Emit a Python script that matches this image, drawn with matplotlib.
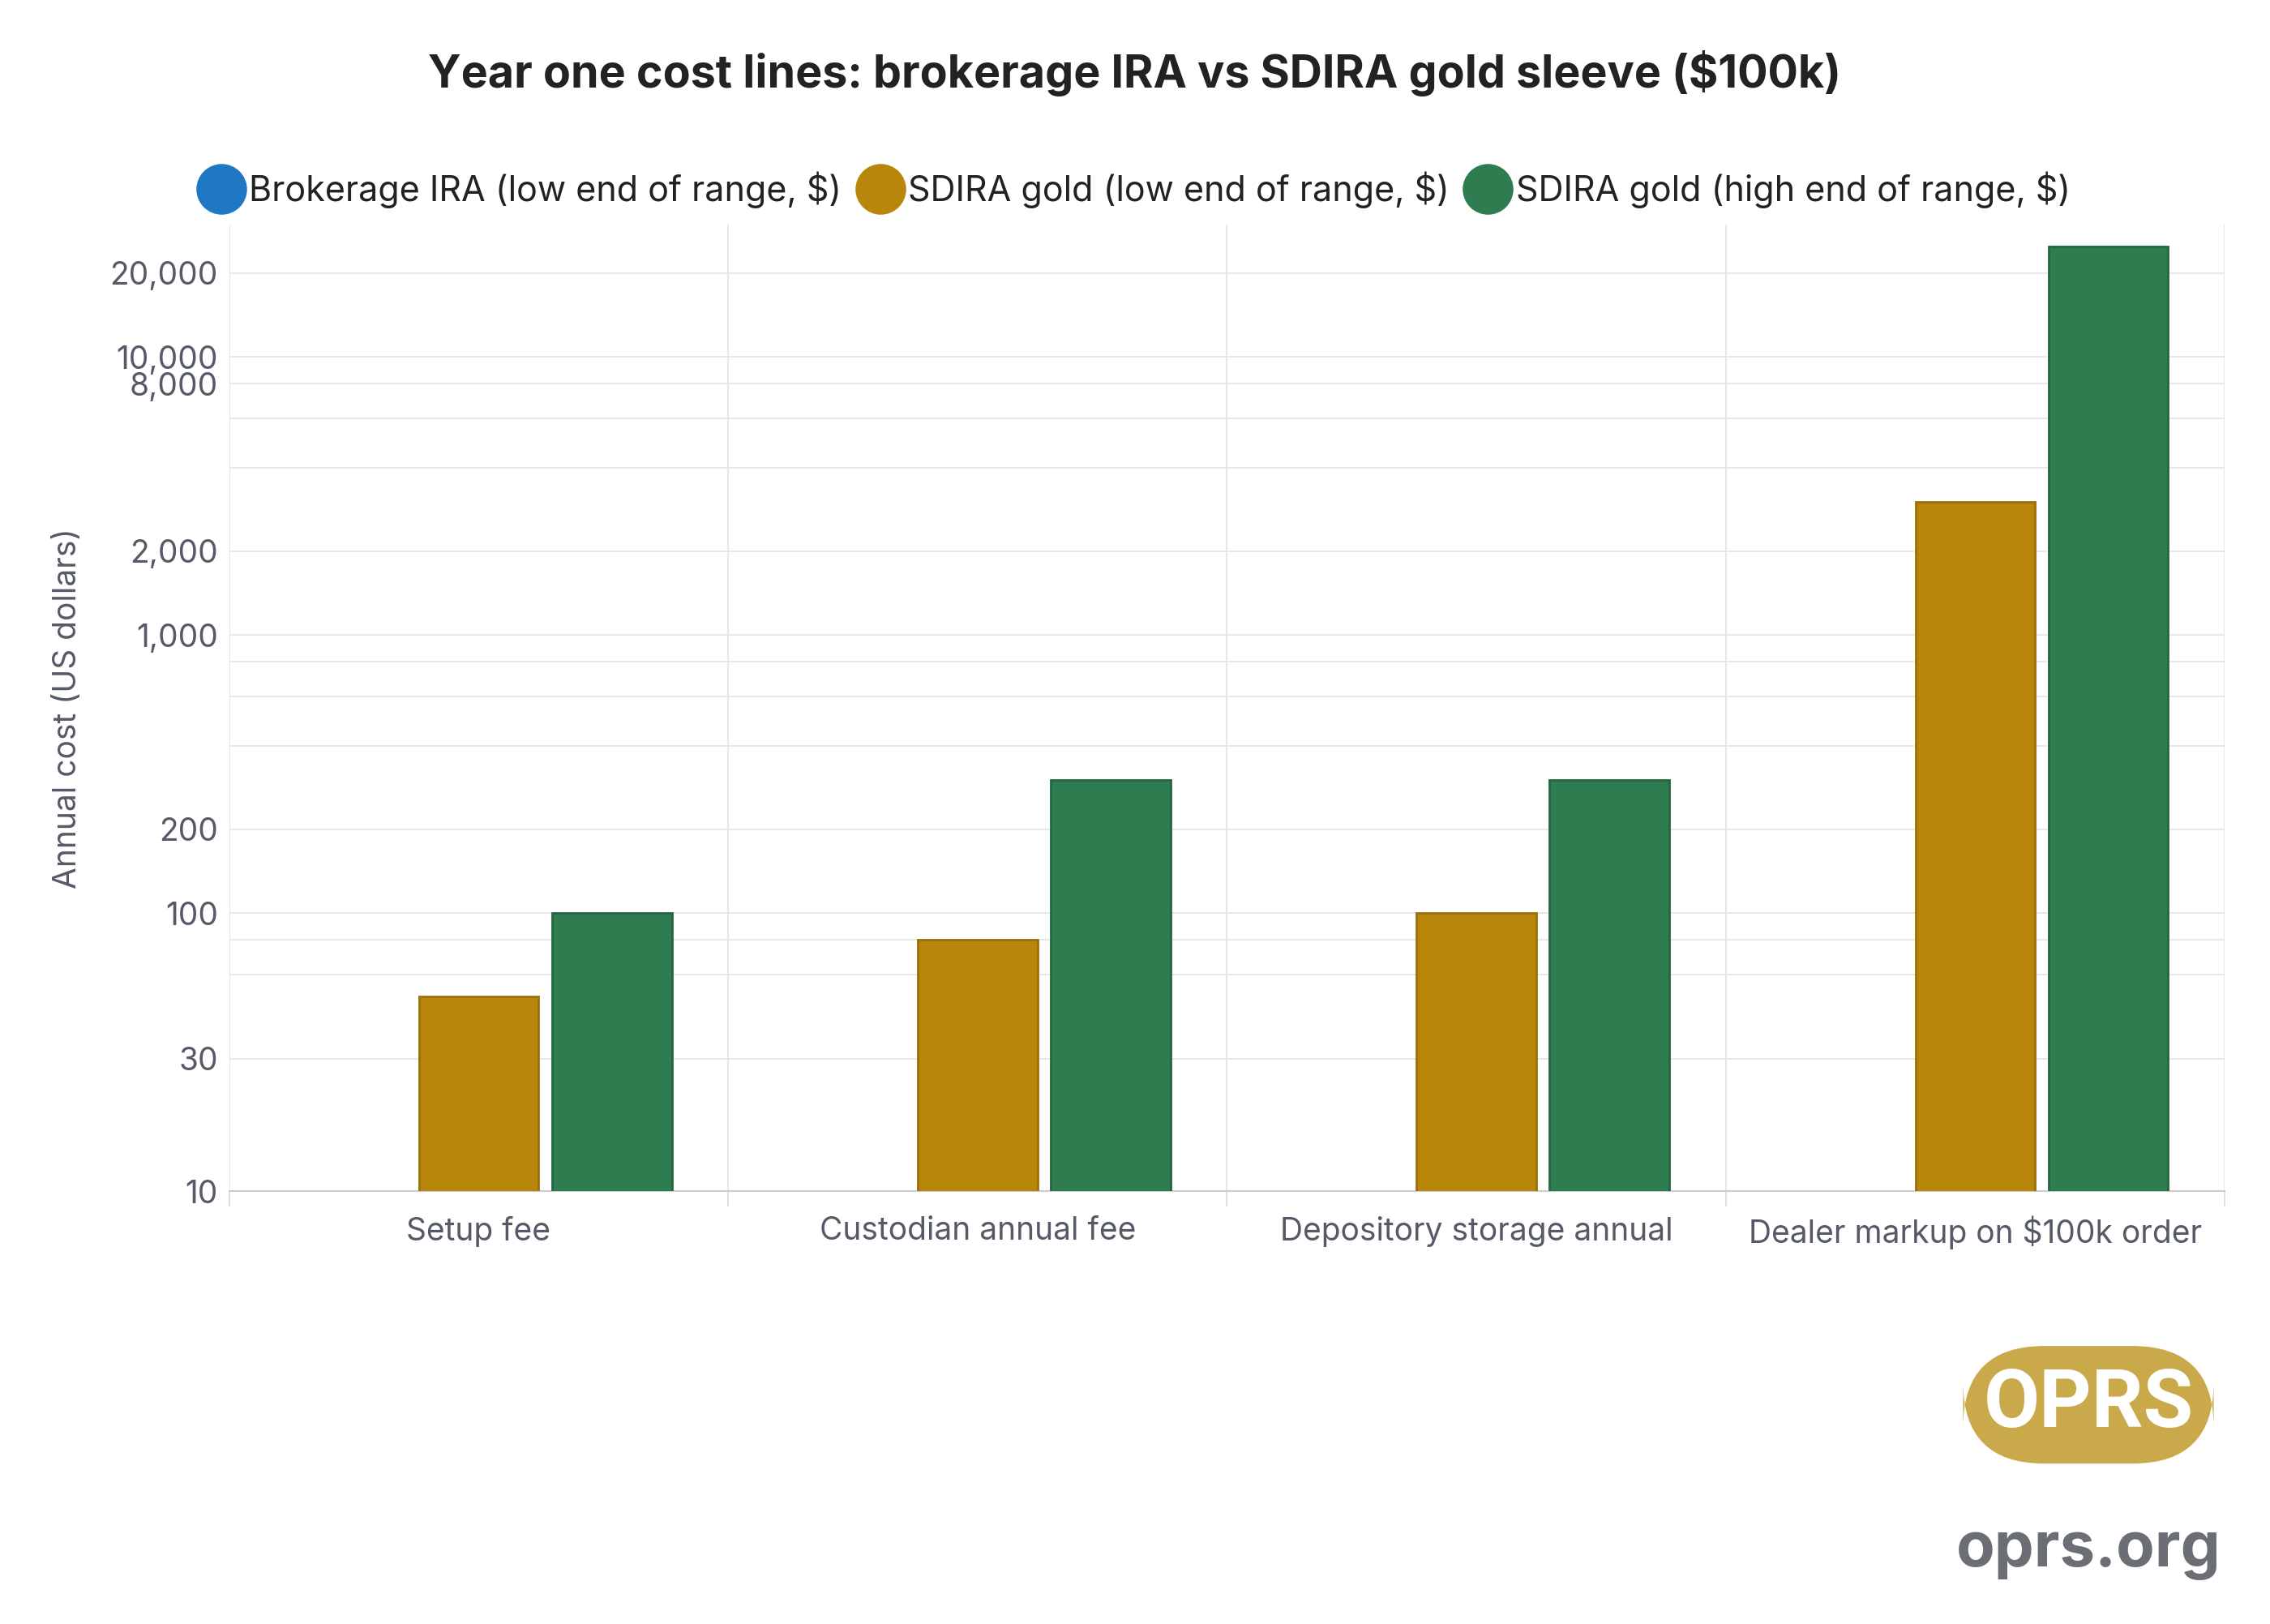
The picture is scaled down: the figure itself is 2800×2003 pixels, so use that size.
import numpy as np
import matplotlib
matplotlib.use("Agg")
import matplotlib.pyplot as plt
from matplotlib.lines import Line2D
from matplotlib.ticker import FixedLocator, NullFormatter

plt.rcParams['font.family'] = ['Inter', 'DejaVu Sans']

categories = ["Setup fee", "Custodian annual fee", "Depository storage annual", "Dealer markup on $100k order"]
brokerage_low = [np.nan, np.nan, np.nan, np.nan]
sdira_low = [50, 80, 100, 3000]
sdira_high = [100, 300, 300, 25000]
series_names = ["Brokerage IRA (low end of range, $)", "SDIRA gold (low end of range, $)", "SDIRA gold (high end of range, $)"]
colors = ["#1f77c4", "#b8860b", "#2e7d50"]
edge_colors = ["#1a5f9c", "#9a700a", "#25663f"]
major_ticks = [10, 30, 100, 200, 1000, 2000, 8000, 10000, 20000]
grid_vals = [10, 30, 60, 80, 100, 200, 400, 600, 800, 1000, 2000, 4000, 6000, 8000, 10000, 20000]

fig = plt.figure(figsize=(28, 20.03), dpi=100)
ax = fig.add_axes([0.101, 0.2665, 0.879, 0.595])
x = np.arange(len(categories))
w = 0.24
step = 0.267
for i, vals in enumerate([brokerage_low, sdira_low, sdira_high]):
    ax.bar(x + (i - 1) * step, vals, width=w, bottom=0, color=colors[i],
           edgecolor=edge_colors[i], linewidth=2, zorder=3)
ax.set_yscale('log')
ax.set_ylim(10, 29800)
ax.set_xlim(-0.5, 3.5)
ax.yaxis.set_major_locator(FixedLocator(major_ticks))
ax.yaxis.set_minor_locator(FixedLocator(grid_vals))
ax.yaxis.set_minor_formatter(NullFormatter())
ax.set_yticklabels([f"{v:,}" for v in major_ticks])
for v in grid_vals:
    ax.axhline(v, color="#e6e6e6", lw=1.3, zorder=0)
for b in [0.5, 1.5, 2.5, 3.5, -0.5]:
    ax.axvline(b, color="#e6e6e6", lw=1.3, zorder=0)
ax.set_xticks(x)
ax.set_xticklabels(categories)
ax.set_xticks([-0.5, 0.5, 1.5, 2.5, 3.5], minor=True)
ax.tick_params(axis='x', which='major', length=0, pad=22, labelsize=28, labelcolor="#555a66")
ax.tick_params(axis='x', which='minor', length=14, color="#dddddd", width=1.3)
ax.tick_params(axis='y', which='both', length=0, pad=10, labelsize=28, labelcolor="#555a66")
for s in ax.spines.values():
    s.set_visible(False)
ax.spines['bottom'].set_visible(True)
ax.spines['bottom'].set_color("#cccccc")
ax.spines['bottom'].set_linewidth(1.5)
ax.set_ylabel("Annual cost (US dollars)", fontsize=28, color="#555a66", labelpad=24)

fig.text(0.5, 0.955, "Year one cost lines: brokerage IRA vs SDIRA gold sleeve ($100k)",
         ha='center', va='center', fontsize=40, fontweight='bold', color="#222222")
handles = [Line2D([0], [0], marker='o', linestyle='', markersize=44, markerfacecolor=c,
                  markeredgecolor=c) for c in colors]
fig.legend(handles, series_names, loc='center', bbox_to_anchor=(0.497, 0.883), ncol=3,
           frameon=False, fontsize=31, handletextpad=-0.2, columnspacing=0.1, labelcolor="#222222")

fig.text(0.92, 0.135, "OPRS", ha='center', va='center', fontsize=72, fontweight='bold',
         color="white", family=['Roboto', 'DejaVu Sans'],
         bbox=dict(boxstyle="round,pad=0.25,rounding_size=1.0", fc="#c9a94a", ec="none"))
fig.text(0.92, 0.045, "oprs.org", ha='center', va='center', fontsize=56, fontweight='bold',
         color="#6b6e75")

fig.savefig("out.png", dpi=100)
